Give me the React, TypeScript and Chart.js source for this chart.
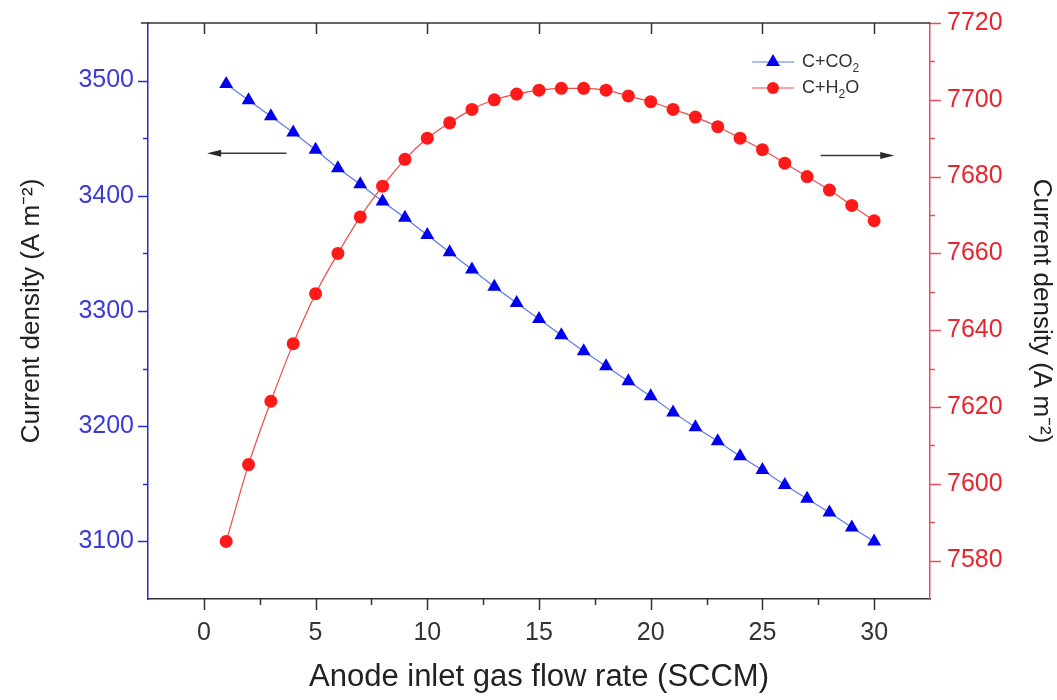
import React, { useEffect, useRef } from 'react';
import { Chart, registerables } from 'chart.js';

Chart.register(...registerables);

// ---- data ----
const flowRates = [1, 2, 3, 4, 5, 6, 7, 8, 9, 10, 11, 12, 13, 14, 15, 16, 17, 18, 19, 20, 21, 22, 23, 24, 25, 26, 27, 28, 29, 30];
const co2Density = [3497, 3483, 3469, 3455, 3440, 3424, 3410, 3395, 3381, 3366, 3351, 3336, 3321, 3307, 3293, 3279, 3265, 3252, 3239, 3226, 3212, 3199, 3187, 3174, 3162, 3149, 3137, 3125, 3112, 3100];
const h2oDensity = [7585, 7605, 7621.5, 7636.5, 7649.5, 7660, 7669.5, 7677.5, 7684.5, 7690, 7694, 7697.5, 7700, 7701.5, 7702.5, 7703, 7703, 7702.5, 7701, 7699.5, 7697.5, 7695.5, 7693, 7690, 7687, 7683.5, 7680, 7676.5, 7672.5, 7668.5];

const xTicks = [0, 5, 10, 15, 20, 25, 30];
const leftTicks = [3100, 3200, 3300, 3400, 3500];
const rightTicks = [7580, 7600, 7620, 7640, 7660, 7680, 7700, 7720];
const xRange = [-2.5, 32.5];
const leftRange = [3050, 3550];
const rightRange = [7570, 7720];

const seriesNames = ['C+CO', 'C+H'];
const xTitle = 'Anode inlet gas flow rate (SCCM)';
const yTitle = 'Current density (A m\u207B\u00B2)';

const FONT = "'Liberation Sans', Arial, sans-serif";
const BLUE = '#0000ee';
const RED = '#ff1a1a';
const LEFT_AXIS = '#2a2ad0';
const LEFT_LABEL = '#3a3ad6';
const RIGHT_AXIS = '#e2505c';
const RIGHT_LABEL = '#e8242e';
const DARK = '#333333';

function withMinors(majors: number[], min: number, max: number) {
  const step = majors[1] - majors[0];
  const out: { v: number; major: boolean }[] = [];
  for (let i = 0; i < majors.length; i++) {
    out.push({ v: majors[i], major: true });
  }
  const first = majors[0] - step / 2;
  if (first > min) out.push({ v: first, major: false });
  for (let i = 0; i < majors.length - 1; i++) {
    out.push({ v: (majors[i] + majors[i + 1]) / 2, major: false });
  }
  const last = majors[majors.length - 1] + step / 2;
  if (last < max) out.push({ v: last, major: false });
  return out;
}

function drawArrow(ctx: CanvasRenderingContext2D, x1: number, x2: number, y: number) {
  const dir = x2 > x1 ? 1 : -1;
  ctx.save();
  ctx.strokeStyle = '#3a3a3a';
  ctx.fillStyle = '#2a2a2a';
  ctx.lineWidth = 1.6;
  ctx.beginPath();
  ctx.moveTo(x1, y);
  ctx.lineTo(x2 - dir * 6, y);
  ctx.stroke();
  ctx.beginPath();
  ctx.moveTo(x2, y);
  ctx.lineTo(x2 - dir * 14, y - 3.5);
  ctx.lineTo(x2 - dir * 14, y + 3.5);
  ctx.closePath();
  ctx.fill();
  ctx.restore();
}

const decorPlugin = {
  id: 'decor',
  afterDraw(chart: any) {
    const { ctx, chartArea: a, scales } = chart;
    const sx = scales.x;
    const sl = scales.y;
    const sr = scales.y1;
    ctx.save();
    ctx.lineCap = 'butt';

    // top frame line
    ctx.strokeStyle = DARK;
    ctx.lineWidth = 1.5;
    ctx.beginPath();
    ctx.moveTo(a.left - 7, a.top);
    ctx.lineTo(a.right, a.top);
    ctx.stroke();

    // x ticks (bottom outward, top inward majors)
    for (const t of withMinors(xTicks, xRange[0], xRange[1])) {
      const px = Math.round(sx.getPixelForValue(t.v)) + 0.5;
      const len = t.major ? 11 : 6;
      ctx.beginPath();
      ctx.moveTo(px, a.bottom);
      ctx.lineTo(px, a.bottom + len);
      ctx.stroke();
      if (t.major) {
        ctx.beginPath();
        ctx.moveTo(px, a.top);
        ctx.lineTo(px, a.top + 11);
        ctx.stroke();
      }
    }

    // left ticks
    ctx.strokeStyle = LEFT_AXIS;
    for (const t of withMinors(leftTicks, leftRange[0], leftRange[1])) {
      const py = Math.round(sl.getPixelForValue(t.v)) + 0.5;
      const len = t.major ? 10 : 5;
      ctx.beginPath();
      ctx.moveTo(a.left, py);
      ctx.lineTo(a.left - len, py);
      ctx.stroke();
    }

    // right ticks
    ctx.strokeStyle = RIGHT_AXIS;
    for (const t of withMinors(rightTicks, rightRange[0], rightRange[1])) {
      const py = Math.round(sr.getPixelForValue(t.v)) + 0.5;
      const len = t.major ? 11 : 5;
      ctx.beginPath();
      ctx.moveTo(a.right, py);
      ctx.lineTo(a.right + len, py);
      ctx.stroke();
    }

    // direction arrows
    drawArrow(ctx, sx.getPixelForValue(3.7), sx.getPixelForValue(0.15), sl.getPixelForValue(3437));
    drawArrow(ctx, sx.getPixelForValue(27.6), sx.getPixelForValue(30.9), sr.getPixelForValue(7685.5));

    // legend
    const lx = a.right - 178;
    const rows = [
      { y: a.top + 39, line: '#5a78f0', color: BLUE, style: 'triangle', text: seriesNames[0], sub: '2', tail: '' },
      { y: a.top + 65, line: '#f04848', color: RED, style: 'circle', text: seriesNames[1], sub: '2', tail: 'O' },
    ];
    for (const r of rows) {
      ctx.strokeStyle = r.line;
      ctx.lineWidth = 1.2;
      ctx.beginPath();
      ctx.moveTo(lx, r.y);
      ctx.lineTo(lx + 42, r.y);
      ctx.stroke();
      ctx.fillStyle = r.color;
      ctx.beginPath();
      if (r.style === 'triangle') {
        const cx = lx + 21;
        const rad = 8;
        ctx.moveTo(cx, r.y - rad);
        ctx.lineTo(cx + rad * 0.866, r.y + rad * 0.5);
        ctx.lineTo(cx - rad * 0.866, r.y + rad * 0.5);
        ctx.closePath();
      } else {
        ctx.arc(lx + 21, r.y, 6, 0, Math.PI * 2);
      }
      ctx.fill();
      ctx.fillStyle = '#333';
      ctx.textBaseline = 'middle';
      ctx.textAlign = 'left';
      ctx.font = `18px ${FONT}`;
      let tx = lx + 50;
      ctx.fillText(r.text, tx, r.y);
      tx += ctx.measureText(r.text).width;
      ctx.font = `12px ${FONT}`;
      ctx.fillText(r.sub, tx, r.y + 7);
      tx += ctx.measureText(r.sub).width;
      if (r.tail) {
        ctx.font = `18px ${FONT}`;
        ctx.fillText(r.tail, tx, r.y);
      }
    }
    ctx.restore();
  },
};

const plainLabel = (v: any) => String(v);
const zeroVPad = (s: any, w: number) => {
  s.width = w;
  s.paddingTop = 0;
  s.paddingBottom = 0;
};

export default function App() {
  const canvasRef = useRef<HTMLCanvasElement | null>(null);

  useEffect(() => {
    const canvas = canvasRef.current;
    if (!canvas) return;
    const chart = new Chart(canvas, {
      type: 'line',
      data: {
        datasets: [
          {
            label: 'C+CO2',
            data: flowRates.map((x, i) => ({ x, y: co2Density[i] })),
            yAxisID: 'y',
            borderColor: '#5a78f0',
            borderWidth: 1.2,
            backgroundColor: BLUE,
            pointBackgroundColor: BLUE,
            pointBorderColor: BLUE,
            pointBorderWidth: 0,
            pointStyle: 'triangle',
            pointRadius: 8,
            tension: 0,
          },
          {
            label: 'C+H2O',
            data: flowRates.map((x, i) => ({ x, y: h2oDensity[i] })),
            yAxisID: 'y1',
            borderColor: '#f04848',
            borderWidth: 1.2,
            backgroundColor: RED,
            pointBackgroundColor: RED,
            pointBorderColor: RED,
            pointBorderWidth: 0,
            pointStyle: 'circle',
            pointRadius: 6.5,
            cubicInterpolationMode: 'monotone',
          },
        ],
      },
      options: {
        animation: false,
        responsive: true,
        maintainAspectRatio: false,
        layout: { padding: { top: 23, left: 0, right: 0, bottom: 0 } },
        plugins: {
          legend: { display: false },
          tooltip: { enabled: false },
        },
        scales: {
          x: {
            type: 'linear',
            min: xRange[0],
            max: xRange[1],
            afterBuildTicks: (s: any) => { s.ticks = xTicks.map((v) => ({ value: v })); },
            afterFit: (s: any) => { s.height = 101; s.paddingLeft = 0; s.paddingRight = 0; },
            grid: { display: true, drawOnChartArea: false, drawTicks: false },
            border: { display: true, color: DARK, width: 1.5 },
            ticks: {
              color: DARK,
              padding: 19,
              font: { family: FONT, size: 25 },
              autoSkip: false,
              maxRotation: 0,
              callback: plainLabel,
            },
            title: {
              display: true,
              text: xTitle,
              color: '#222',
              font: { family: FONT, size: 31 },
              padding: { top: 0, bottom: 4 },
            },
          },
          y: {
            type: 'linear',
            position: 'left',
            min: leftRange[0],
            max: leftRange[1],
            afterBuildTicks: (s: any) => { s.ticks = leftTicks.map((v) => ({ value: v })); },
            afterFit: (s: any) => zeroVPad(s, 148),
            grid: { display: true, drawOnChartArea: false, drawTicks: false },
            border: { display: true, color: LEFT_AXIS, width: 1.5 },
            ticks: {
              color: LEFT_LABEL,
              padding: 14,
              font: { family: FONT, size: 25 },
              callback: plainLabel,
            },
            title: {
              display: true,
              text: yTitle,
              color: '#222',
              font: { family: FONT, size: 26 },
              padding: { top: 16, bottom: 0 },
            },
          },
          y1: {
            type: 'linear',
            position: 'right',
            min: rightRange[0],
            max: rightRange[1],
            afterBuildTicks: (s: any) => { s.ticks = rightTicks.map((v) => ({ value: v })); },
            afterFit: (s: any) => zeroVPad(s, 127),
            grid: { display: true, drawOnChartArea: false, drawTicks: false },
            border: { display: true, color: RIGHT_AXIS, width: 1.5 },
            ticks: {
              color: RIGHT_LABEL,
              padding: 17,
              font: { family: FONT, size: 25 },
              callback: plainLabel,
            },
            title: {
              display: true,
              text: yTitle,
              color: '#222',
              font: { family: FONT, size: 26 },
              padding: { top: 0, bottom: 0 },
            },
          },
        },
      },
      plugins: [decorPlugin],
    } as any);
    return () => chart.destroy();
  }, []);

  return (
    <div style={{ position: 'fixed', left: 0, top: 0, width: 1057, height: 700, background: '#fff' }}>
      <canvas ref={canvasRef} />
    </div>
  );
}
